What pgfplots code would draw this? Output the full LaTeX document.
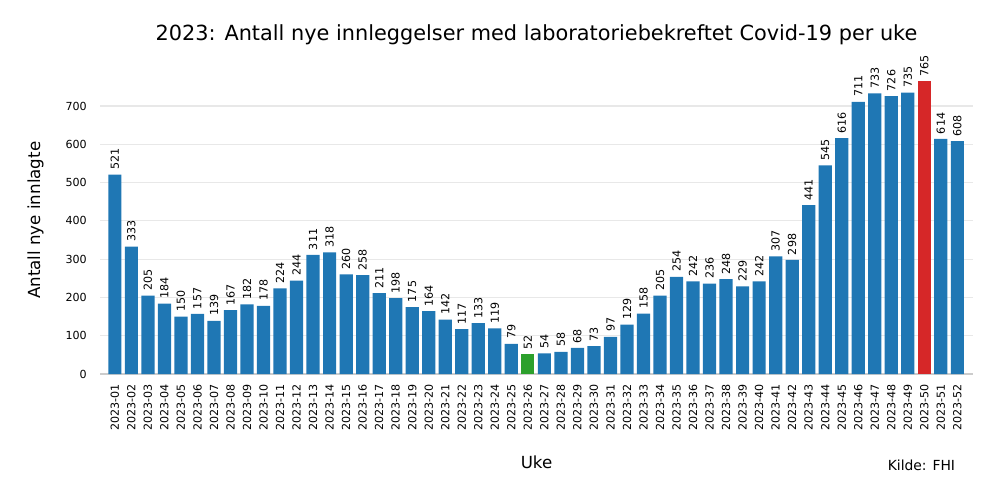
\documentclass[border=0pt]{standalone}
\usepackage{pgfplots}
\pgfplotsset{compat=1.18}
\usepackage{fontspec}
\setmainfont{DejaVu Sans}
\definecolor{mblue}{HTML}{1F77B4}
\definecolor{mred}{HTML}{D62728}
\definecolor{mgreen}{HTML}{2CA02C}
\begin{document}
\begin{tikzpicture}
\path[use as bounding box] (0,0) rectangle (720pt,360pt);
\begin{axis}[
  at={(72pt,90.7pt)}, anchor=south west,
  scale only axis, width=628.6pt, height=221.4pt,
  xmin=-0.9, xmax=51.95, ymin=0, ymax=803,
  ybar, bar width=0.8, bar shift=0pt,
  axis x line*=bottom, axis y line*=left,
  x axis line style={draw=black!20, line width=1.5pt},
  y axis line style={draw=none},
  ymajorgrids, grid style={draw=black!9, line width=0.9pt},
  ytick={0,100,...,700},
  major tick length=0pt,
  xtick={0,...,51},
  xticklabels={2023-01,2023-02,2023-03,2023-04,2023-05,2023-06,2023-07,2023-08,2023-09,2023-10,2023-11,2023-12,2023-13,2023-14,2023-15,2023-16,2023-17,2023-18,2023-19,2023-20,2023-21,2023-22,2023-23,2023-24,2023-25,2023-26,2023-27,2023-28,2023-29,2023-30,2023-31,2023-32,2023-33,2023-34,2023-35,2023-36,2023-37,2023-38,2023-39,2023-40,2023-41,2023-42,2023-43,2023-44,2023-45,2023-46,2023-47,2023-48,2023-49,2023-50,2023-51,2023-52},
  x tick label style={rotate=90, anchor=east, font=\fontsize{8pt}{9pt}\selectfont, xshift=-4pt},
  y tick label style={font=\fontsize{8pt}{9pt}\selectfont, anchor=east},
  yticklabel style={xshift=-6pt},
  /pgf/number format/assume math mode=true,
  /pgf/number format/.cd, 1000 sep={}, /pgfplots/.cd,
  nodes near coords,
  every node near coord/.append style={rotate=90, anchor=west, font=\fontsize{8pt}{9pt}\selectfont, color=black, xshift=0pt},
  title={2023: Antall nye innleggelser med laboratoriebekreftet Covid-19 per uke},
  title style={font=\fontsize{15pt}{17pt}\selectfont, yshift=6pt},
  ylabel={Antall nye innlagte},
  ylabel style={font=\fontsize{12pt}{14pt}\selectfont, yshift=9pt},
  xlabel={Uke},
  xlabel style={font=\fontsize{12pt}{14pt}\selectfont, yshift=-11pt},
  clip=false,
]
\addplot[fill=mblue, draw=none] coordinates {
(0,521)(1,333)(2,205)(3,184)(4,150)(5,157)(6,139)(7,167)(8,182)(9,178)
(10,224)(11,244)(12,311)(13,318)(14,260)(15,258)(16,211)(17,198)(18,175)(19,164)
(20,142)(21,117)(22,133)(23,119)(24,79)(26,54)(27,58)(28,68)(29,73)
(30,97)(31,129)(32,158)(33,205)(34,254)(35,242)(36,236)(37,248)(38,229)(39,242)
(40,307)(41,298)(42,441)(43,545)(44,616)(45,711)(46,733)(47,726)(48,735)
(50,614)(51,608)};
\addplot[fill=mgreen, draw=none] coordinates {(25,52)};
\addplot[fill=mred, draw=none] coordinates {(49,765)};
\node[anchor=east, font=\fontsize{10pt}{12pt}\selectfont] at (rel axis cs:0.985,0) [yshift=-66pt] {Kilde: FHI};
\end{axis}
\end{tikzpicture}
\end{document}
